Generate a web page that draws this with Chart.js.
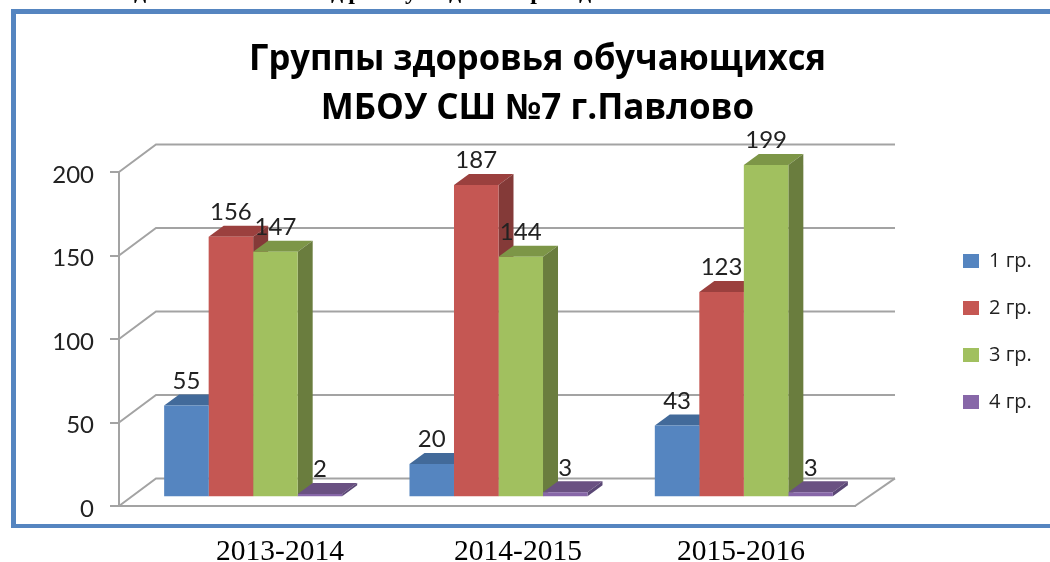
<!DOCTYPE html>
<html>
<head>
<meta charset="utf-8">
<script src="https://cdn.jsdelivr.net/npm/chart.js@4"></script>
<style>
  html, body { margin: 0; padding: 0; background: #fff; overflow: hidden; }
  #frame { position: absolute; left: 11px; top: 9px; width: 1100px; height: 510px;
           border: solid #5585c0; border-width: 5px 0 4px 5px; }
  #myChart { position: absolute; left: 0; top: 0; }
</style>
</head>
<body>
<div id="frame"></div>
<canvas id="myChart" width="1050" height="562"></canvas>
<script>
const categories = ['2013-2014', '2014-2015', '2015-2016'];
const group1 = [55, 20, 43];
const group2 = [156, 187, 123];
const group3 = [147, 144, 199];
const group4 = [2, 3, 3];
const seriesNames = ['1 гр.', '2 гр.', '3 гр.', '4 гр.'];
const titleLines = ['Группы здоровья обучающихся', 'МБОУ СШ №7 г.Павлово'];
const clippedHeading = ['д', 'д', 'р', 'у', 'д', 'р', 'д'];

const digitFont = 'Lato, "Noto Sans", sans-serif';
const textFont = '"Open Sans", "Noto Sans", sans-serif';
const gridColor = '#a3a3a3';

// the bars stand on a plane pushed back from the front axis
const barShift = { x: 11.5, y: -8.7 };
const barDepth = { x: 15, y: -11 };
const sideColors = ['#3f6591', '#843a38', '#6a7d3e', '#5a4775'];
const topColors = ['#426a9a', '#9b403e', '#7d9647', '#6a5182'];

const wallsPlugin = {
  id: 'walls',
  beforeDraw(chart) {
    // legend and title sit apart from the plot, so move them after layout
    const legend = chart.legend;
    legend.left = 936;
    legend.right = 1050;
    legend.top = 224;
    legend.bottom = 560;
    const title = chart.titleBlock;
    title.left = 249;
    title.right = 826;
  },
  beforeDatasetsDraw(chart) {
    const ctx = chart.ctx;
    const y = chart.scales.y;
    const area = chart.chartArea;
    ctx.save();
    ctx.strokeStyle = gridColor;
    ctx.lineWidth = 2;
    y.ticks.forEach(function (tick) {
      const py = y.getPixelForValue(tick.value);
      ctx.beginPath();
      ctx.moveTo(area.left, py);
      ctx.lineTo(area.left + 37, py - 27.6);
      ctx.lineTo(area.right + 40, py - 27.6);
      ctx.stroke();
    });
    // right edge of the floor
    const py0 = y.getPixelForValue(0);
    ctx.beginPath();
    ctx.moveTo(area.right, py0);
    ctx.lineTo(area.right + 40, py0 - 27.6);
    ctx.stroke();
    ctx.restore();

    ctx.save();
    ctx.translate(barShift.x, barShift.y);
    // top and side faces go first, the library paints the front faces over them
    chart.data.datasets.forEach(function (ds, i) {
      chart.getDatasetMeta(i).data.forEach(function (bar) {
        const half = bar.width / 2;
        const l = bar.x - half;
        const r = bar.x + half;
        ctx.fillStyle = topColors[i];
        ctx.beginPath();
        ctx.moveTo(l, bar.y);
        ctx.lineTo(l + barDepth.x, bar.y + barDepth.y);
        ctx.lineTo(r + barDepth.x, bar.y + barDepth.y);
        ctx.lineTo(r, bar.y);
        ctx.closePath();
        ctx.fill();
        ctx.fillStyle = sideColors[i];
        ctx.beginPath();
        ctx.moveTo(r, bar.y);
        ctx.lineTo(r + barDepth.x, bar.y + barDepth.y);
        ctx.lineTo(r + barDepth.x, bar.base + barDepth.y);
        ctx.lineTo(r, bar.base);
        ctx.closePath();
        ctx.fill();
      });
    });
  },
  afterDatasetsDraw(chart) {
    const ctx = chart.ctx;
    ctx.font = '24px ' + digitFont;
    ctx.fillStyle = '#222';
    ctx.textAlign = 'center';
    ctx.textBaseline = 'middle';
    chart.data.datasets.forEach(function (ds, i) {
      chart.getDatasetMeta(i).data.forEach(function (bar, j) {
        ctx.fillText(ds.data[j], bar.x, bar.y - 24.5);
      });
    });
    ctx.restore();
  },
  afterDraw(chart) {
    const ctx = chart.ctx;
    const xPos = [280, 518, 741];
    ctx.save();
    ctx.font = '29.5px "Liberation Serif"';
    ctx.fillStyle = '#000';
    ctx.textAlign = 'center';
    ctx.textBaseline = 'alphabetic';
    categories.forEach(function (c, i) {
      ctx.fillText(c, xPos[i], 560);
    });
    // the line of page text cut off by the top edge of the picture
    const headX = [140, 337, 355, 411, 455, 537, 585];
    ctx.font = 'bold 24px "Liberation Serif"';
    clippedHeading.forEach(function (c, i) {
      ctx.fillText(c, headX[i], -1);
    });
    ctx.restore();
  }
};

function makeSet(label, data, color) {
  return { label: label, data: data, backgroundColor: color, clip: false };
}

const ctx = document.getElementById('myChart').getContext('2d');
const myChart = new Chart(ctx, {
  type: 'bar',
  data: {
    labels: categories,
    datasets: [
      makeSet(seriesNames[0], group1, '#5585c0'),
      makeSet(seriesNames[1], group2, '#c55753'),
      makeSet(seriesNames[2], group3, '#a1c05f'),
      makeSet(seriesNames[3], group4, '#8767a8')
    ]
  },
  plugins: [wallsPlugin],
  options: {
    responsive: false,
    animation: false,
    layout: { padding: { left: 0, top: 0, right: 195, bottom: 56 } },
    datasets: { bar: { barPercentage: 1, categoryPercentage: 0.7257 } },
    plugins: {
      tooltip: { enabled: false },
      title: {
        display: true,
        text: titleLines,
        color: '#000',
        font: { family: textFont, size: 35, weight: 'bold', lineHeight: 49 / 35 },
        padding: { top: 36, bottom: 38 }
      },
      legend: {
        position: 'chartArea',
        align: 'start',
        labels: {
          boxWidth: 16,
          boxHeight: 14,
          padding: 27,
          color: '#222',
          font: { family: textFont, size: 20 }
        }
      }
    },
    scales: {
      x: {
        grid: { display: false },
        ticks: { display: false },
        border: { color: gridColor, width: 2 },
        afterFit: function (scale) { scale.height = 0; }
      },
      y: {
        min: 0,
        max: 200,
        ticks: { stepSize: 50, padding: 16, labelOffset: 3, color: '#222', font: { family: digitFont, size: 24 } },
        grid: { drawOnChartArea: false, tickLength: 9, color: gridColor, lineWidth: 2 },
        border: { color: gridColor, width: 2 },
        afterFit: function (scale) { scale.width = 119; }
      }
    }
  }
});
</script>
</body>
</html>
